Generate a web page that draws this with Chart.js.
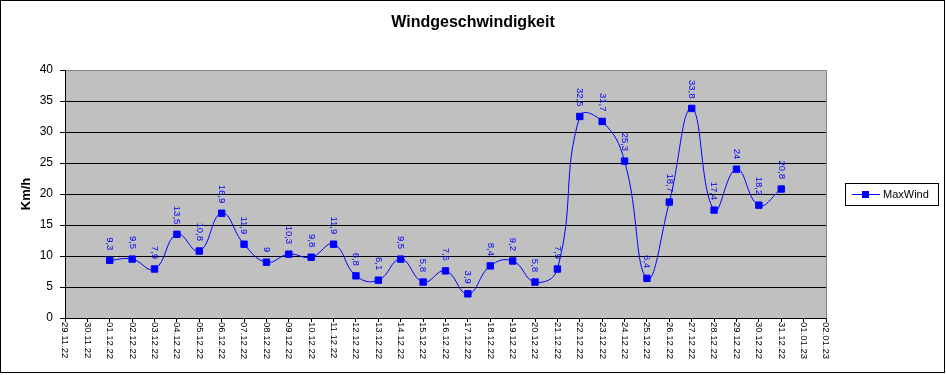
<!DOCTYPE html>
<html>
<head>
<meta charset="utf-8">
<script src="https://cdn.jsdelivr.net/npm/chart.js@4/dist/chart.umd.min.js"></script>
<style>
  html, body { margin: 0; padding: 0; background: #fff; }
  #wrap { width: 946px; height: 375px; position: relative; }
</style>
</head>
<body>
<div id="wrap"><canvas id="c" width="946" height="375"></canvas></div>
<script>
const chartTitle = 'Windgeschwindigkeit';
const yAxisTitle = 'Km/h';
const seriesName = 'MaxWind';
const categories = [
  '29.11.22','30.11.22','01.12.22','02.12.22','03.12.22','04.12.22','05.12.22','06.12.22',
  '07.12.22','08.12.22','09.12.22','10.12.22','11.12.22','12.12.22','13.12.22','14.12.22',
  '15.12.22','16.12.22','17.12.22','18.12.22','19.12.22','20.12.22','21.12.22','22.12.22',
  '23.12.22','24.12.22','25.12.22','26.12.22','27.12.22','28.12.22','29.12.22','30.12.22',
  '31.12.22','01.01.23','02.01.23'
];
const maxWind = [
  null, null,
  9.3, 9.5, 7.9, 13.5, 10.8, 16.9, 11.9, 9, 10.3, 9.8, 11.9, 6.8, 6.1, 9.5,
  5.8, 7.6, 3.9, 8.4, 9.2, 5.8, 7.9, 32.5, 31.7, 25.3, 6.4, 18.7, 33.8, 17.4,
  24, 18.2, 20.8,
  null, null
];
const yMin = 0, yMax = 40, yStep = 5;

const FONT = '"Liberation Sans", Arial, sans-serif';
const BLUE = '#0000FF';

const decor = {
  id: 'decor',
  beforeDraw(chart) {
    const ctx = chart.ctx, a = chart.chartArea;
    ctx.save();
    ctx.fillStyle = '#fff';
    ctx.fillRect(0, 0, chart.width, chart.height);
    ctx.fillStyle = '#C0C0C0';
    ctx.fillRect(a.left, a.top, a.right - a.left, a.bottom - a.top);
    ctx.restore();
  },
  beforeDatasetsDraw(chart) {
    const ctx = chart.ctx, a = chart.chartArea;
    ctx.save();
    ctx.strokeStyle = '#808080';
    ctx.lineWidth = 1;
    ctx.beginPath();
    ctx.moveTo(Math.round(a.left) + 0.5, Math.round(a.top) + 0.5);
    ctx.lineTo(Math.round(a.right) + 0.5, Math.round(a.top) + 0.5);
    ctx.lineTo(Math.round(a.right) + 0.5, Math.round(a.bottom) + 0.5);
    ctx.stroke();
    ctx.restore();
  },
  afterDraw(chart) {
    const ctx = chart.ctx, a = chart.chartArea;
    ctx.save();
    // outer border
    ctx.strokeStyle = '#000';
    ctx.lineWidth = 1;
    ctx.strokeRect(0.5, 0.5, 944, 372);
    // title
    ctx.fillStyle = '#000';
    ctx.font = 'bold 16px ' + FONT;
    ctx.textAlign = 'center';
    ctx.textBaseline = 'middle';
    ctx.fillText(chartTitle, 473, 23);
    // x tick labels rotated clockwise
    const xs = chart.scales.x;
    ctx.font = '9.5px ' + FONT;
    ctx.textAlign = 'left';
    ctx.textBaseline = 'middle';
    categories.forEach((lab, i) => {
      const x = xs.getPixelForTick(i);
      ctx.save();
      ctx.translate(x, a.bottom + 4);
      ctx.rotate(Math.PI / 2);
      ctx.fillText(lab, 0, 0);
      ctx.restore();
    });
    // data labels
    const meta = chart.getDatasetMeta(0);
    ctx.fillStyle = BLUE;
    ctx.font = '9.5px ' + FONT;
    ctx.textAlign = 'right';
    meta.data.forEach((pt, i) => {
      const v = maxWind[i];
      if (v === null || v === undefined) return;
      ctx.save();
      ctx.translate(pt.x, pt.y - 10);
      ctx.rotate(Math.PI / 2);
      ctx.fillText(String(v).replace('.', ','), 0, 0);
      ctx.restore();
    });
    // legend
    ctx.strokeStyle = '#000';
    ctx.strokeRect(845.5, 183.5, 93, 22);
    ctx.strokeStyle = BLUE;
    ctx.beginPath();
    ctx.moveTo(852, 194.5);
    ctx.lineTo(880, 194.5);
    ctx.stroke();
    ctx.fillStyle = BLUE;
    ctx.fillRect(862, 191, 7, 7);
    ctx.fillStyle = '#000';
    ctx.font = '11px ' + FONT;
    ctx.textAlign = 'left';
    ctx.textBaseline = 'middle';
    ctx.fillText(seriesName, 883, 195);
    ctx.restore();
  }
};

new Chart(document.getElementById('c'), {
  type: 'line',
  data: {
    labels: categories,
    datasets: [{
      label: seriesName,
      data: maxWind,
      borderColor: BLUE,
      borderWidth: 1,
      backgroundColor: BLUE,
      pointStyle: 'rect',
      pointRadius: 4.5,
      pointBorderWidth: 1,
      pointBorderColor: BLUE,
      pointBackgroundColor: BLUE,
      tension: 0.45,
      fill: false
    }]
  },
  options: {
    responsive: false,
    animation: false,
    devicePixelRatio: 1,
    layout: { padding: { top: 70, right: 120, left: 0, bottom: 0 } },
    plugins: {
      legend: { display: false },
      title: { display: false },
      tooltip: { enabled: false }
    },
    scales: {
      x: {
        type: 'category',
        offset: false,
        afterFit(scale) { scale.height = 57; },
        grid: {
          display: true,
          drawOnChartArea: false,
          drawTicks: true,
          tickLength: 4,
          color: '#000',
          lineWidth: 1
        },
        border: { display: true, color: '#000', width: 1 },
        ticks: { display: false, autoSkip: false }
      },
      y: {
        min: yMin,
        max: yMax,
        afterFit(scale) { scale.width = 65; },
        ticks: {
          stepSize: yStep,
          color: '#000',
          padding: 7,
          font: { family: FONT, size: 12 }
        },
        grid: {
          color: (c) => (c.tick && c.tick.value === yMax) ? '#808080' : '#000',
          tickColor: '#000',
          tickLength: 5,
          lineWidth: 1
        },
        border: { display: true, color: '#000', width: 1 },
        title: {
          display: true,
          text: yAxisTitle,
          color: '#000',
          font: { family: FONT, size: 13, weight: 'bold' },
          padding: { top: 19, bottom: 0 }
        }
      }
    }
  },
  plugins: [decor]
});
</script>
</body>
</html>
